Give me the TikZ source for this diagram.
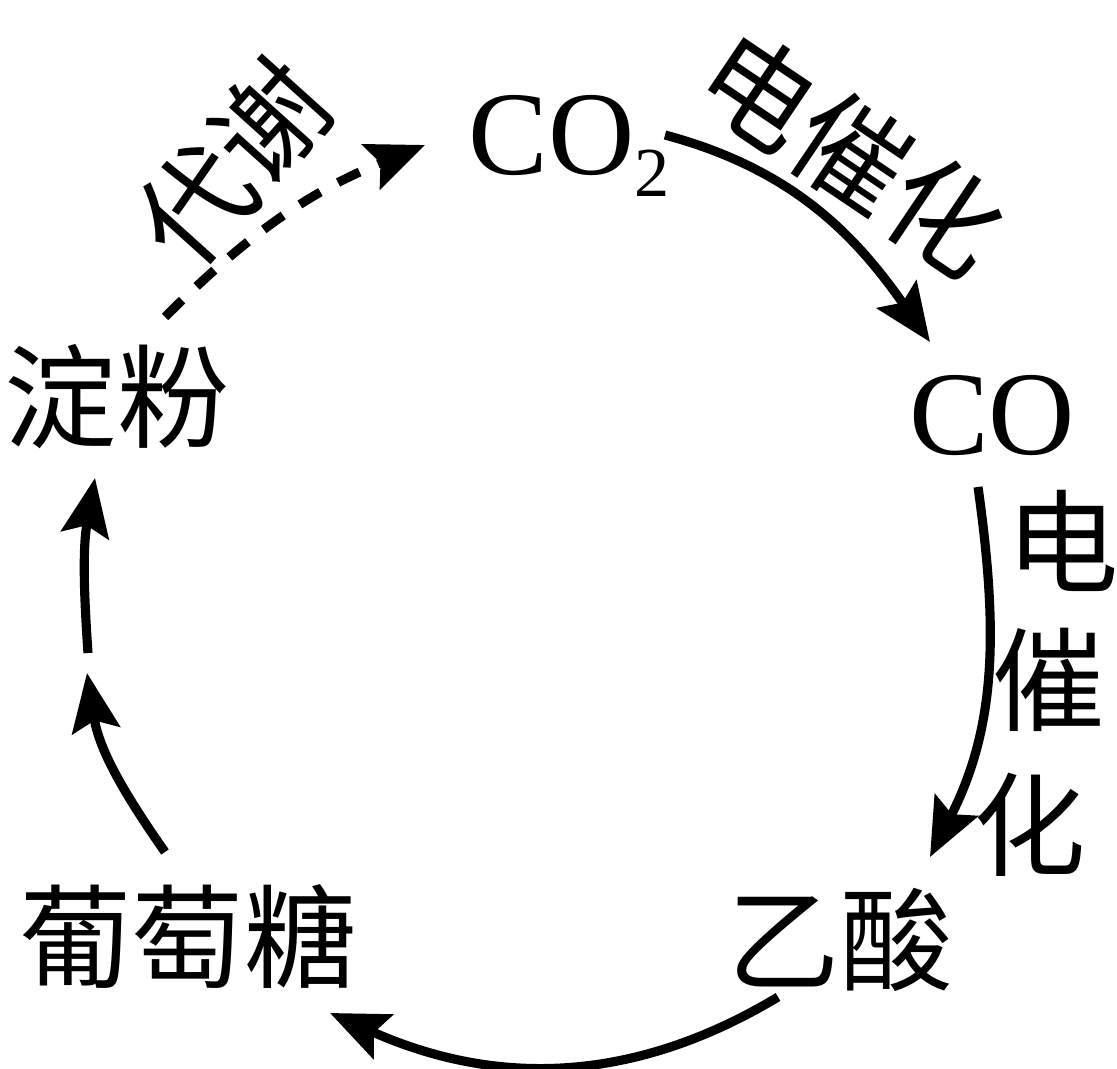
\documentclass[tikz,border=0pt]{standalone}
\usepackage{fontspec}
\setmainfont{Liberation Serif}
\newfontfamily\cjk{Noto Sans CJK SC}
\usetikzlibrary{arrows.meta}

\begin{document}
\begin{tikzpicture}[
    every node/.style={inner sep=0pt},
    latin/.style={font=\fontsize{34}{40}\selectfont},
    hanzi/.style={font=\cjk\fontsize{32}{38}\selectfont},
    reaction/.style={line width=2.6pt, -{Stealth[length=0.58cm, width=0.48cm, inset=0.1cm]}},
]

    \useasboundingbox (0,0) rectangle (11.17,-10.69);

    % Species round the cycle
    \node[latin, anchor=base west] (CO2) at (4.68,-1.75) {CO\raisebox{-6pt}{\fontsize{20}{24}\selectfont 2}};
    \node[latin, anchor=base] (CO) at (9.92,-4.55) {CO};
    \node[hanzi] (Acid) at (8.40,-9.40) {乙酸};
    \node[hanzi] (Glucose) at (1.88,-9.37) {葡萄糖};
    \node[hanzi] (Starch) at (1.17,-3.97) {淀粉};

    % Labels of the steps
    \node[hanzi, rotate=48] (Metab) at (2.33,-1.63) {代谢};
    \node[hanzi, rotate=-34] (Elec1) at (8.52,-1.53) {电催化};
    \node[hanzi] (Elec2_a) at (10.63,-5.41) {电};
    \node[hanzi] (Elec2_b) at (10.49,-6.80) {催};
    \node[hanzi] (Elec2_c) at (10.30,-8.25) {化};

    % Ends of the arrows
    \coordinate (Starch_out) at (1.65,-3.17);
    \coordinate (CO2_in) at (4.25,-1.45);
    \coordinate (CO2_out) at (6.65,-1.35);
    \coordinate (CO_in) at (9.30,-3.42);
    \coordinate (CO_out) at (9.78,-4.87);
    \coordinate (Acid_in) at (9.30,-8.57);
    \coordinate (Acid_out) at (7.78,-9.97);
    \coordinate (Glucose_in) at (3.30,-10.13);
    \coordinate (Glucose_out) at (1.65,-8.52);
    \coordinate (Mid_in) at (0.87,-6.73);
    \coordinate (Mid_out) at (0.88,-6.53);
    \coordinate (Starch_in) at (0.95,-4.78);

    % Dashed step: starch back to CO2
    \draw[reaction, dash pattern=on 0.24cm off 0.20cm] (Starch_out) to[out=45, in=-158] (CO2_in);

    % Electrocatalytic steps
    \draw[reaction] (CO2_out) to[out=-15, in=125] (CO_in);
    \draw[reaction] (CO_out) to[out=-82, in=63] (Acid_in);

    % Acid to glucose to starch
    \draw[reaction] (Acid_out) to[out=-149, in=-24] (Glucose_in);
    \draw[reaction] (Glucose_out) to[out=125, in=-81] (Mid_in);
    \draw[reaction] (Mid_out) to[out=94, in=-100] (Starch_in);

\end{tikzpicture}
\end{document}
